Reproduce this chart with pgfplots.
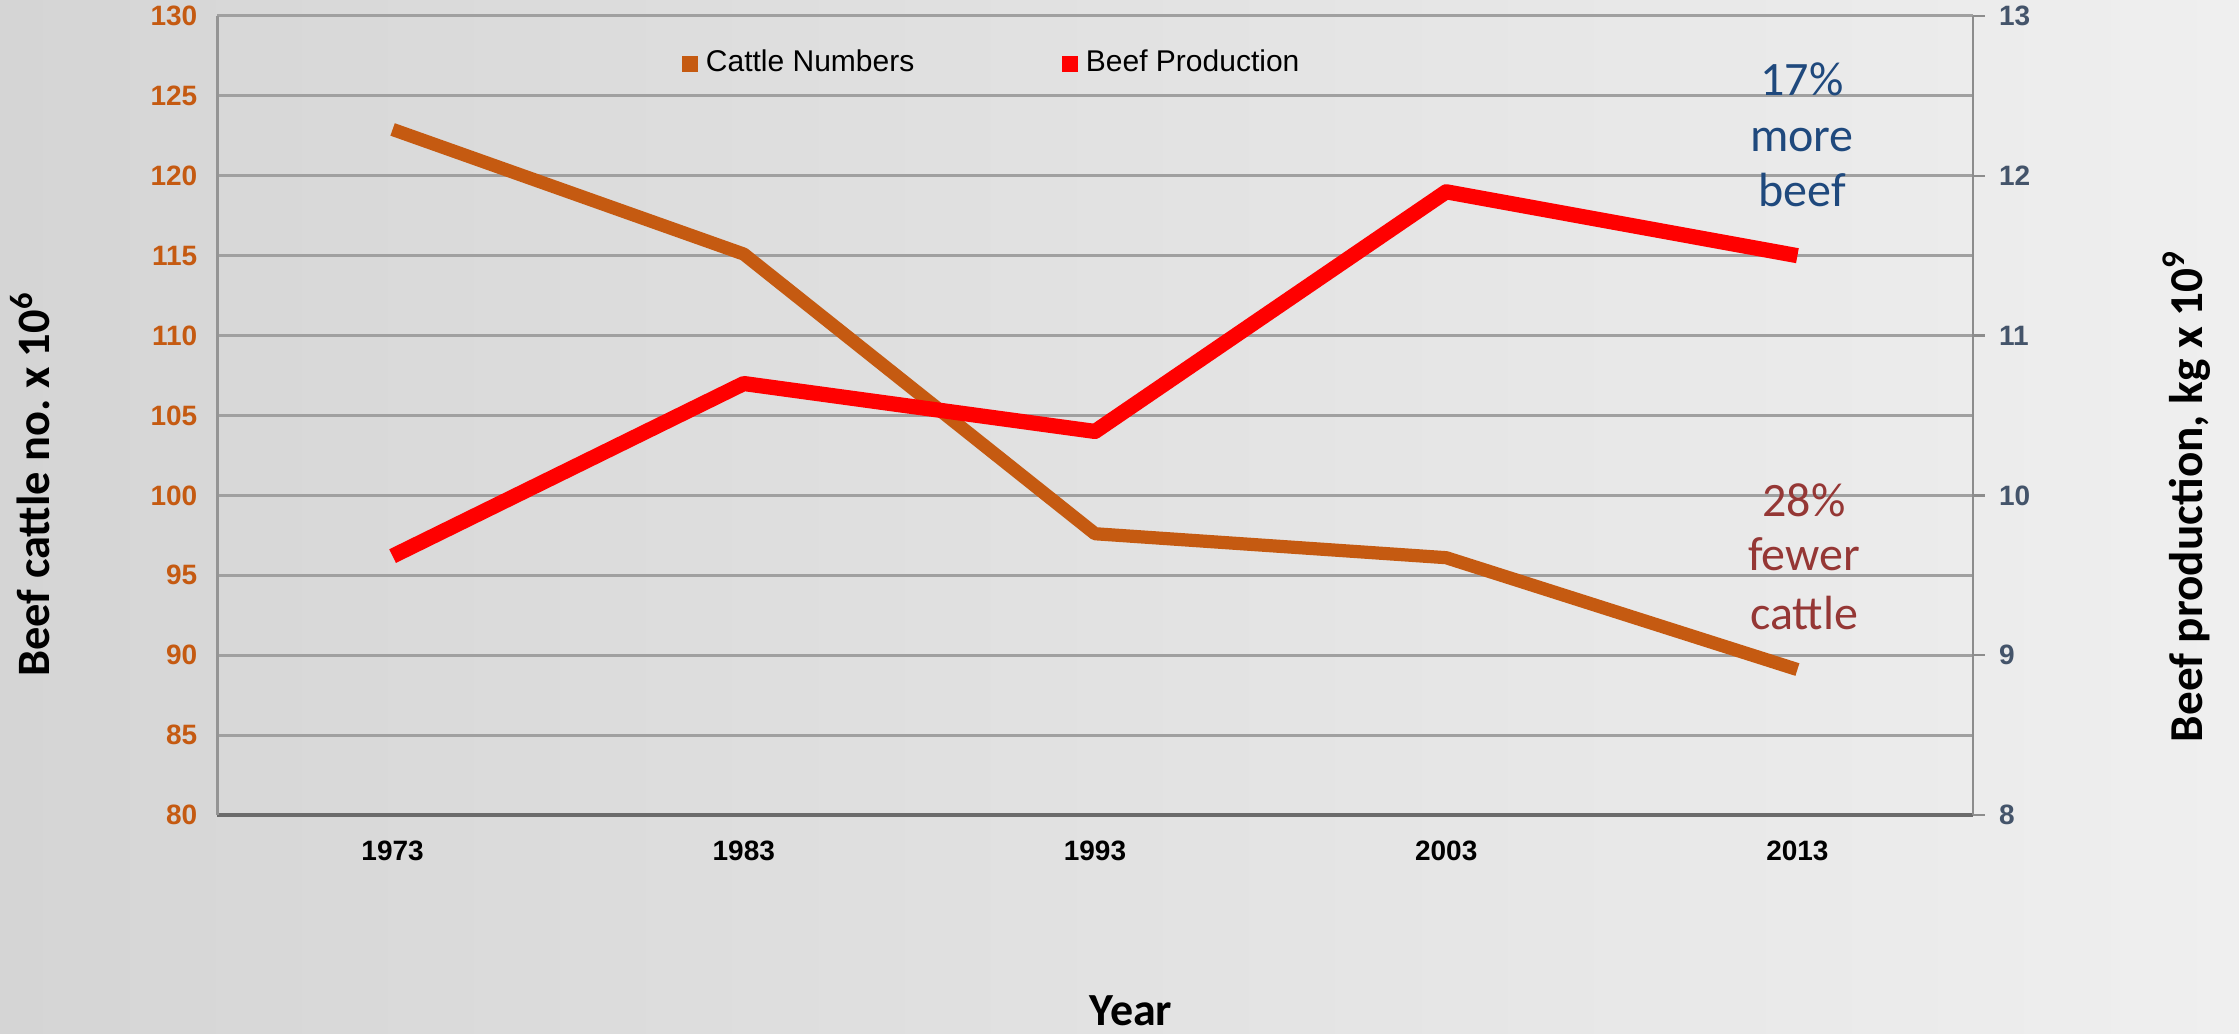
\documentclass[border=0pt]{standalone}
\usepackage{fontspec}
\setmainfont{Carlito}
\newfontfamily\tickfont{Liberation Sans}
\usepackage{pgfplots}
\pgfplotsset{compat=1.18}

\definecolor{cattle}{HTML}{C55A11}
\definecolor{beef}{HTML}{FF0000}
\definecolor{gridc}{HTML}{A0A0A0}
\definecolor{bgL}{HTML}{D5D5D5}
\definecolor{bgR}{HTML}{EFEFEF}
\definecolor{rtick}{HTML}{44546A}
\definecolor{blueann}{HTML}{1F497D}
\definecolor{redann}{HTML}{953735}

\pgfplotsset{
	BaseStyle/.style={
		at={(54.25pt,54.75pt)}, anchor=south west,
		scale only axis, width=439pt, height=199.75pt,
		xmin=1968, xmax=2018,
		clip=false,
		/pgf/number format/assume math mode=true,
		ticklabel style={font=\tickfont\bfseries\fontsize{7}{8}\selectfont},
	},
}

\begin{document}
\frenchspacing
\begin{tikzpicture}
	% page background
	\shade[left color=bgL, right color=bgR] (0,0) rectangle (559.75pt,258.5pt);

	% cattle numbers, left axis
	\begin{axis}[
	BaseStyle,
	ymin=80, ymax=130,
	axis x line*=bottom,
	axis y line*=left,
	xtick={1973,1983,1993,2003,2013},
	ytick={80,85,...,130},
	major tick length=0pt,
	ymajorgrids,
	major grid style={gridc, line width=0.75pt},
	x axis line style={color=black!58, line width=0.8pt},
	y axis line style={color=black!42, line width=0.75pt},
	yticklabel style={color=cattle, xshift=-1.4pt},
	xticklabel style={yshift=-3pt, /pgf/number format/1000 sep={}},
	]
	\addplot[cattle, line width=3.3pt, line join=round] coordinates {
		(1973,122.9) (1983,115.1) (1993,97.6) (2003,96.1) (2013,89.1)
	};
	\end{axis}

	% beef production, right axis
	\begin{axis}[
	BaseStyle,
	ymin=8, ymax=13,
	axis x line=none,
	axis y line*=right,
	ytick={8,...,13},
	tick align=outside,
	major tick length=3pt,
	y axis line style={color=black!45, line width=0.6pt},
	ytick style={color=black!45, line width=0.6pt},
	yticklabel style={color=rtick},
	legend style={
		at={(0.443,0.94)}, anchor=center,
		draw=none, fill=none,
		legend columns=2,
		font=\tickfont\fontsize{7.5}{9}\selectfont,
		/tikz/every even column/.append style={column sep=35pt},
	},
	legend image code/.code={\fill[#1] (0pt,-1.75pt) rectangle (3.5pt,1.75pt);},
	]
	\addplot[forget plot, beef, line width=3.8pt, line join=round] coordinates {
		(1973,9.62) (1983,10.7) (1993,10.4) (2003,11.9) (2013,11.5)
	};
	\addlegendimage{cattle}
	\addlegendentry{Cattle Numbers}
	\addlegendimage{beef}
	\addlegendentry{Beef Production}
	\end{axis}

	% annotations
	\begin{scope}[every node/.style={anchor=base, font=\fontsize{12}{14}\selectfont}]
		\node[text=blueann] at (450.5pt,234.5pt) {17\%};
		\node[text=blueann] at (450.5pt,220.5pt) {more};
		\node[text=blueann] at (450.5pt,206.75pt) {beef};
		\node[text=redann] at (451pt,129.25pt) {28\%};
		\node[text=redann] at (451pt,115.75pt) {fewer};
		\node[text=redann] at (451pt,101pt) {cattle};
	\end{scope}

	% axis titles
	\node[rotate=90, anchor=base, font=\bfseries\fontsize{11.6}{13}\selectfont] at (12.5pt,137.5pt) {Beef cattle no. x 10\textsuperscript{6}};
	\node[rotate=90, anchor=base, font=\bfseries\fontsize{11.8}{13}\selectfont] at (550.5pt,134.5pt) {Beef production, kg x 10\textsuperscript{9}};
	\node[anchor=base, font=\bfseries\fontsize{11.5}{13}\selectfont] at (282.75pt,2pt) {Year};

	\pgfresetboundingbox
	\useasboundingbox (0,0) rectangle (559.75pt,258.5pt);
\end{tikzpicture}
\end{document}
